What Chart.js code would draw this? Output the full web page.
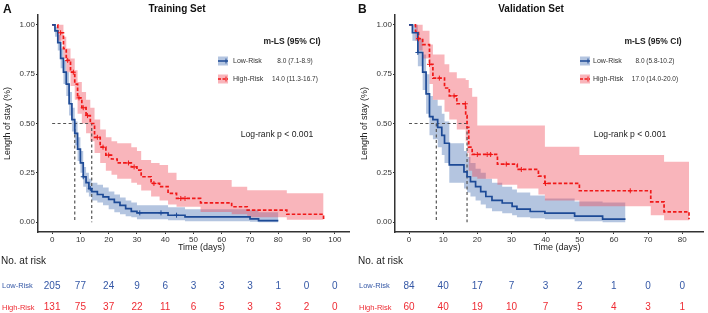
<!DOCTYPE html>
<html>
<head>
<meta charset="utf-8">
<script src="https://cdn.jsdelivr.net/npm/chart.js@4.4.0/dist/chart.umd.min.js"></script>
<style>
  html, body { margin: 0; padding: 0; background: #fff; }
  #wrap { position: relative; width: 708px; height: 313px; }
  .panel { position: absolute; top: 0; width: 354px; height: 313px; }
</style>
</head>
<body>
<div id="wrap">
  <div class="panel" style="left:0"><canvas id="chartA" width="354" height="313"></canvas></div>
  <div class="panel" style="left:354px"><canvas id="chartB" width="354" height="313"></canvas></div>
</div>
<script>
// ---- shared ----
const groups = ["Low-Risk", "High-Risk"];
const survTicks = [0, 0.25, 0.5, 0.75, 1];
const pText = "Log-rank p < 0.001";

// ---- Training set (A) ----
const trainTicks = [0, 10, 20, 30, 40, 50, 60, 70, 80, 90, 100];
const trainLowT = [0, 1, 2, 3, 4, 5, 6, 7, 8, 9, 10, 11, 12, 13, 14, 16, 18, 20, 22, 24, 26, 28, 30, 41, 47, 70, 73, 80];
const trainLowS = [1, 0.97, 0.91, 0.83, 0.76, 0.70, 0.60, 0.52, 0.45, 0.37, 0.30, 0.23, 0.20, 0.17, 0.155, 0.14, 0.128, 0.115, 0.10, 0.085, 0.068, 0.055, 0.047, 0.035, 0.027, 0.017, 0.008, 0.008];
const trainLowL = [1, 0.94, 0.87, 0.78, 0.70, 0.64, 0.54, 0.46, 0.39, 0.31, 0.25, 0.18, 0.15, 0.13, 0.11, 0.10, 0.085, 0.065, 0.05, 0.04, 0.03, 0.025, 0.015, 0.01, 0.005, 0.002, 0, 0];
const trainLowU = [1, 0.99, 0.95, 0.88, 0.82, 0.76, 0.66, 0.58, 0.51, 0.43, 0.36, 0.28, 0.25, 0.22, 0.20, 0.19, 0.175, 0.155, 0.14, 0.125, 0.11, 0.10, 0.085, 0.075, 0.065, 0.06, 0.05, 0.05];
const trainLowCens = [11, 13.5, 31, 38.5, 44];

const trainHighT = [0, 2, 4, 5, 6.5, 8, 9, 10.5, 12, 13.5, 15, 17, 19, 21, 23, 28, 30, 31.5, 35, 38, 41, 44, 52.5, 63.5, 69, 83, 96];
const trainHighS = [1, 0.96, 0.88, 0.82, 0.76, 0.70, 0.63, 0.58, 0.54, 0.50, 0.43, 0.38, 0.34, 0.32, 0.30, 0.28, 0.264, 0.23, 0.196, 0.18, 0.146, 0.12, 0.098, 0.078, 0.061, 0.04, 0.015];
const trainHighL = [1, 0.92, 0.83, 0.76, 0.69, 0.62, 0.55, 0.50, 0.45, 0.41, 0.35, 0.30, 0.26, 0.24, 0.22, 0.20, 0.19, 0.16, 0.13, 0.11, 0.09, 0.078, 0.052, 0.04, 0.025, 0.012, 0.01];
const trainHighU = [1, 1, 0.94, 0.88, 0.83, 0.77, 0.71, 0.66, 0.62, 0.58, 0.52, 0.47, 0.43, 0.41, 0.40, 0.38, 0.36, 0.315, 0.30, 0.29, 0.25, 0.213, 0.213, 0.18, 0.162, 0.146, 0.146];
const trainHighCens = [3, 5.5, 7.5, 9.5, 11, 12.5, 16, 18, 20, 27, 29, 36, 45.5, 47];

const trainMedian = [8.0, 14.0];
const trainCI = ["8.0 (7.1-8.9)", "14.0 (11.3-16.7)"];
const trainRiskLow = [205, 77, 24, 9, 6, 3, 3, 3, 1, 0, 0];
const trainRiskHigh = [131, 75, 37, 22, 11, 6, 5, 3, 3, 2, 0];

// ---- Validation set (B) ----
const valTicks = [0, 10, 20, 30, 40, 50, 60, 70, 80];
const valLowT = [0, 1, 2.6, 4, 5, 6, 7, 8.4, 9.6, 10.4, 11.8, 16.1, 17, 18, 19.5, 21, 22.5, 24.3, 27.3, 30.2, 31.6, 35.5, 39.8, 48.5, 56.7, 63.4];
const valLowS = [1, 0.96, 0.86, 0.76, 0.65, 0.535, 0.52, 0.48, 0.44, 0.40, 0.29, 0.255, 0.23, 0.205, 0.18, 0.155, 0.13, 0.11, 0.097, 0.08, 0.066, 0.054, 0.046, 0.03, 0.015, 0.015];
const valLowL = [1, 0.92, 0.79, 0.67, 0.55, 0.44, 0.42, 0.38, 0.34, 0.30, 0.20, 0.17, 0.15, 0.13, 0.11, 0.09, 0.07, 0.055, 0.045, 0.035, 0.025, 0.02, 0.015, 0.005, 0, 0];
const valLowU = [1, 1, 0.93, 0.85, 0.75, 0.64, 0.62, 0.59, 0.55, 0.51, 0.40, 0.36, 0.33, 0.30, 0.27, 0.25, 0.22, 0.20, 0.18, 0.165, 0.15, 0.135, 0.12, 0.105, 0.10, 0.10];
const valLowCens = [2.6];

const valHighT = [0, 1.9, 2.8, 4, 6, 7, 10.4, 11.8, 14, 16.6, 17, 17.5, 18.5, 20, 25.9, 31.7, 37.9, 39.8, 49.9, 70.8, 74.7, 82];
const valHighS = [1, 0.966, 0.93, 0.90, 0.80, 0.73, 0.68, 0.64, 0.60, 0.54, 0.48, 0.38, 0.343, 0.343, 0.294, 0.267, 0.233, 0.196, 0.159, 0.103, 0.052, 0.015];
const valHighL = [1, 0.92, 0.87, 0.83, 0.70, 0.62, 0.56, 0.52, 0.47, 0.41, 0.35, 0.26, 0.23, 0.22, 0.19, 0.17, 0.14, 0.11, 0.08, 0.035, 0.01, 0.01];
const valHighU = [1, 1, 1, 0.97, 0.90, 0.85, 0.80, 0.76, 0.73, 0.72, 0.72, 0.68, 0.636, 0.49, 0.49, 0.49, 0.49, 0.382, 0.34, 0.34, 0.306, 0.306];
const valHighCens = [2.8, 6, 8.9, 13.2, 16.5, 20, 22.9, 23.9, 28.5, 32.9, 40, 64.8];

const valMedian = [8.0, 17.0];
const valCI = ["8.0 (5.8-10.2)", "17.0 (14.0-20.0)"];
const valRiskLow = [84, 40, 17, 7, 3, 2, 1, 0, 0];
const valRiskHigh = [60, 40, 19, 10, 7, 5, 4, 3, 1];

// ---- styling ----
const FONT = "'Liberation Sans', Arial, sans-serif";
const BLUE = "#1d4a96";
const RED = "#f01818";
const BLUE_BAND = "rgba(40, 90, 165, 0.35)";
const RED_BAND = "rgba(240, 70, 85, 0.40)";
const BLUE_TXT = "#3558a6";
const RED_TXT = "#ee2b33";

const pts = (ts, vs) => ts.map((t, i) => ({ x: t, y: vs[i] }));
const stepAt = (ts, ss, t) => {
  let v = ss[0];
  for (let i = 0; i < ts.length; i++) if (ts[i] <= t) v = ss[i];
  return v;
};

// draws titles, legend, p value and the risk table
const kmText = {
  id: "kmText",
  afterDraw(chart, args, o) {
    const ctx = chart.ctx;
    const xs = chart.scales.x;
    const area = chart.chartArea;
    ctx.save();
    ctx.textBaseline = "middle";

    // panel letter + title
    ctx.fillStyle = "#111";
    ctx.textAlign = "left";
    ctx.font = "bold 12px " + FONT;
    ctx.fillText(o.letter, o.letterX, 9.5);
    ctx.textAlign = "center";
    ctx.font = "bold 10px " + FONT;
    ctx.fillText(o.title, chart.width / 2, 9.5);

    // axis titles
    ctx.fillStyle = "#222";
    ctx.font = "9px " + FONT;
    ctx.fillText("Time (days)", (area.left + area.right) / 2 + 8, 248);
    ctx.save();
    ctx.translate(o.yTitleX, (area.top + area.bottom) / 2);
    ctx.rotate(-Math.PI / 2);
    ctx.fillText("Length of stay (%)", 0, 0);
    ctx.restore();

    // legend
    ctx.font = "bold 8.5px " + FONT;
    ctx.fillStyle = "#222";
    ctx.fillText("m-LS (95% CI)", o.legTitleX, 42);
    const rows = [
      { y: 61, band: BLUE_BAND, line: BLUE, dash: [] },
      { y: 79, band: RED_BAND, line: RED, dash: [3, 1.5] },
    ];
    rows.forEach((r, i) => {
      ctx.fillStyle = r.band;
      ctx.fillRect(o.swatchX, r.y - 4.5, 10, 9);
      ctx.strokeStyle = r.line;
      ctx.lineWidth = 1.5;
      ctx.setLineDash(r.dash);
      ctx.beginPath();
      ctx.moveTo(o.swatchX, r.y);
      ctx.lineTo(o.swatchX + 10, r.y);
      ctx.stroke();
      ctx.setLineDash([]);
      ctx.lineWidth = 1;
      ctx.beginPath();
      ctx.moveTo(o.swatchX + 8, r.y - 2.5);
      ctx.lineTo(o.swatchX + 8, r.y + 2.5);
      ctx.stroke();
      ctx.fillStyle = "#333";
      ctx.textAlign = "left";
      ctx.font = "7px " + FONT;
      ctx.fillText(groups[i], o.legLabelX, r.y + 0.5);
      ctx.textAlign = "center";
      ctx.font = "6.5px " + FONT;
      ctx.fillText(o.ci[i], o.legValX, r.y + 0.5);
    });

    // p value
    ctx.fillStyle = "#222";
    ctx.font = "8.6px " + FONT;
    ctx.fillText(pText, o.pX, 135);

    // risk table
    ctx.textAlign = "left";
    ctx.font = "10px " + FONT;
    ctx.fillStyle = "#222";
    ctx.fillText("No. at risk", o.tableX, 261.5);
    const risk = [
      { y: 286, vals: o.riskLow, col: BLUE_TXT },
      { y: 307.5, vals: o.riskHigh, col: RED_TXT },
    ];
    risk.forEach((r, i) => {
      ctx.fillStyle = r.col;
      ctx.textAlign = "left";
      ctx.font = "7.5px " + FONT;
      ctx.fillText(groups[i], o.tableX + 1, r.y);
      ctx.textAlign = "center";
      ctx.font = "10px " + FONT;
      r.vals.forEach((v, k) => {
        ctx.fillText(String(v), xs.getPixelForValue(o.ticks[k]), r.y);
      });
    });
    ctx.restore();
  },
};

function makePanel(id, p) {
  const low = p.low, high = p.high;
  const maxMed = Math.max(...p.median);
  const minMed = Math.min(...p.median);
  const datasets = [
    // confidence bands (upper fills down to the next dataset)
    { data: pts(low.t, low.u), stepped: true, borderWidth: 0, pointRadius: 0, fill: "+1", backgroundColor: BLUE_BAND, order: 10 },
    { data: pts(low.t, low.l), stepped: true, borderWidth: 0, pointRadius: 0, fill: false, order: 10 },
    { data: pts(high.t, high.u), stepped: true, borderWidth: 0, pointRadius: 0, fill: "+1", backgroundColor: RED_BAND, order: 9 },
    { data: pts(high.t, high.l), stepped: true, borderWidth: 0, pointRadius: 0, fill: false, order: 9 },
    // median guides
    { data: [{ x: 0, y: 0.5 }, { x: maxMed, y: 0.5 }, { x: maxMed, y: 0 }], borderColor: "#555", borderWidth: 1.2, borderDash: [3, 2.5], pointRadius: 0, fill: false, order: 5 },
    { data: [{ x: minMed, y: 0.5 }, { x: minMed, y: 0 }], borderColor: "#555", borderWidth: 1.2, borderDash: [3, 2.5], pointRadius: 0, fill: false, order: 5 },
    // survival curves
    { data: pts(low.t, low.s), stepped: true, borderColor: BLUE, borderWidth: 1.7, pointRadius: 0, fill: false, order: 2 },
    { data: pts(high.t, high.s), stepped: true, borderColor: RED, borderWidth: 1.7, borderDash: [3.5, 2], pointRadius: 0, fill: false, order: 2 },
    // censor marks
    { type: "scatter", data: low.cens.map(t => ({ x: t, y: stepAt(low.t, low.s, t) })), pointStyle: "cross", pointRadius: 2.5, borderColor: BLUE, borderWidth: 1, order: 1 },
    { type: "scatter", data: high.cens.map(t => ({ x: t, y: stepAt(high.t, high.s, t) })), pointStyle: "cross", pointRadius: 2.5, borderColor: RED, borderWidth: 1, order: 1 },
  ];

  return new Chart(document.getElementById(id).getContext("2d"), {
    type: "line",
    data: { datasets },
    plugins: [kmText],
    options: {
      responsive: false,
      animation: false,
      layout: { padding: { left: 0, right: p.padRight, top: 15, bottom: 0 } },
      scales: {
        x: {
          type: "linear",
          min: p.xMin,
          max: p.xMax,
          afterBuildTicks: s => { s.ticks = p.ticks.map(v => ({ value: v })); },
          afterFit: s => { s.height = 81; },
          grid: { display: true, drawOnChartArea: false, drawTicks: true, tickLength: 2, color: "#333" },
          border: { display: true, color: "#333", width: 1.5 },
          ticks: { padding: 1, color: "#333", font: { family: FONT, size: 8 }, maxRotation: 0, callback: v => String(v) },
        },
        y: {
          type: "linear",
          min: -0.05,
          max: 1.05,
          afterBuildTicks: s => { s.ticks = survTicks.map(v => ({ value: v })); },
          afterFit: s => { s.width = p.yWidth; },
          grid: { display: true, drawOnChartArea: false, drawTicks: true, tickLength: 2, color: "#333" },
          border: { display: true, color: "#333", width: 1.5 },
          ticks: { padding: 1, color: "#333", font: { family: FONT, size: 8 }, callback: v => Number(v).toFixed(2) },
        },
      },
      plugins: {
        legend: { display: false },
        title: { display: false },
        tooltip: { enabled: false },
        kmText: p.text,
      },
    },
  });
}

makePanel("chartA", {
  low: { t: trainLowT, s: trainLowS, l: trainLowL, u: trainLowU, cens: trainLowCens },
  high: { t: trainHighT, s: trainHighS, l: trainHighL, u: trainHighU, cens: trainHighCens },
  median: trainMedian,
  ticks: trainTicks,
  xMin: -5, xMax: 105,
  padRight: 5, yWidth: 38,
  text: {
    letter: "A", letterX: 3, title: "Training Set", yTitleX: 8,
    legTitleX: 292, swatchX: 218, legLabelX: 233, legValX: 295, pX: 277,
    ci: trainCI, tableX: 1, riskLow: trainRiskLow, riskHigh: trainRiskHigh, ticks: trainTicks,
  },
});

makePanel("chartB", {
  low: { t: valLowT, s: valLowS, l: valLowL, u: valLowU, cens: valLowCens },
  high: { t: valHighT, s: valHighS, l: valHighL, u: valHighU, cens: valHighCens },
  median: valMedian,
  ticks: valTicks,
  xMin: -4.1, xMax: 86.1,
  padRight: 1, yWidth: 41,
  text: {
    letter: "B", letterX: 4, title: "Validation Set", yTitleX: 11,
    legTitleX: 299, swatchX: 226, legLabelX: 239, legValX: 301, pX: 276,
    ci: valCI, tableX: 4, riskLow: valRiskLow, riskHigh: valRiskHigh, ticks: valTicks,
  },
});
</script>
</body>
</html>
